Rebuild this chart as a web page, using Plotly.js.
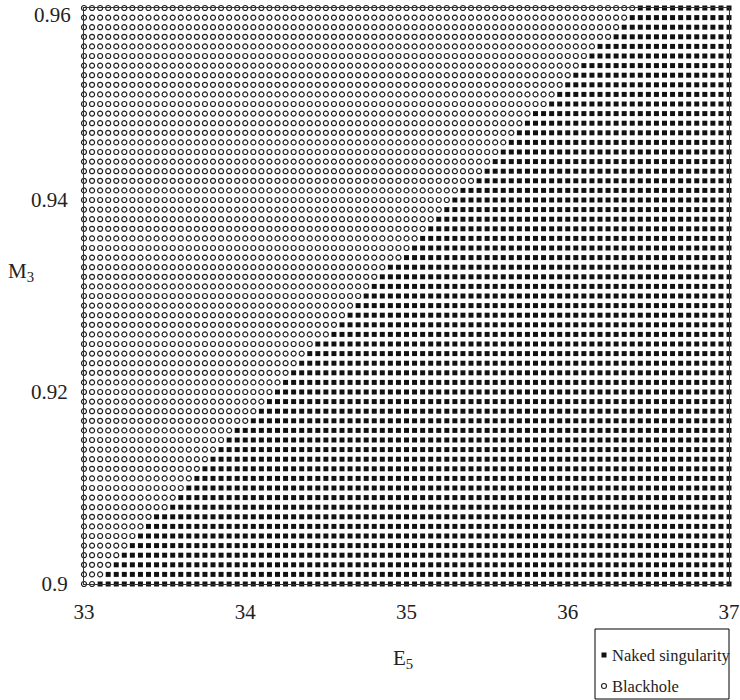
<!DOCTYPE html>
<html>
<head>
<meta charset="utf-8">
<script src="https://cdn.plot.ly/plotly-3.0.1.min.js"></script>
<style>html,body{margin:0;padding:0;background:#fff;}#chart{width:740px;height:700px;}</style>
</head>
<body>
<div id="chart"></div>
<script>
// Grid of E5 values (x) and M3 values (y)
const xValues = [33.00,33.05,33.10,33.15,33.20,33.25,33.30,33.35,33.40,33.45,
  33.50,33.55,33.60,33.65,33.70,33.75,33.80,33.85,33.90,33.95,
  34.00,34.05,34.10,34.15,34.20,34.25,34.30,34.35,34.40,34.45,
  34.50,34.55,34.60,34.65,34.70,34.75,34.80,34.85,34.90,34.95,
  35.00,35.05,35.10,35.15,35.20,35.25,35.30,35.35,35.40,35.45,
  35.50,35.55,35.60,35.65,35.70,35.75,35.80,35.85,35.90,35.95,
  36.00,36.05,36.10,36.15,36.20,36.25,36.30,36.35,36.40,36.45,
  36.50,36.55,36.60,36.65,36.70,36.75,36.80,36.85,36.90,36.95,37.00];
const yValues = [0.900,0.901,0.902,0.903,0.904,0.905,0.906,0.907,0.908,0.909,
  0.910,0.911,0.912,0.913,0.914,0.915,0.916,0.917,0.918,0.919,
  0.920,0.921,0.922,0.923,0.924,0.925,0.926,0.927,0.928,0.929,
  0.930,0.931,0.932,0.933,0.934,0.935,0.936,0.937,0.938,0.939,
  0.940,0.941,0.942,0.943,0.944,0.945,0.946,0.947,0.948,0.949,
  0.950,0.951,0.952,0.953,0.954,0.955,0.956,0.957,0.958,0.959,0.960];
// For each M3 row: index into xValues of the first "naked singularity" point
const firstNakedIndex = [2,3,4,5,6,7,8,9,11,12,
  13,14,15,16,17,18,19,21,22,23,
  24,25,26,27,28,29,31,32,33,34,
  35,36,37,38,40,41,42,43,44,45,
  46,47,49,50,51,52,53,54,55,56,
  58,59,60,61,62,63,64,66,67,68,69];
const seriesNames = ["Naked singularity", "Blackhole"];
const xTickVals = [33,34,35,36,37];
const xTickText = ["33","34","35","36","37"];
const yTickVals = [0.90,0.92,0.94,0.96];
const yTickText = ["0.9","0.92","0.94","0.96"];

const nakedX = [], nakedY = [], bhX = [], bhY = [];
yValues.forEach((yv, i) => {
  xValues.forEach((xv, k) => {
    if (k >= firstNakedIndex[i]) { nakedX.push(xv); nakedY.push(yv); }
    else { bhX.push(xv); bhY.push(yv); }
  });
});

const FONT = "'Liberation Serif', 'DejaVu Serif', 'Times New Roman', Times, serif";
const INK = "#222";
const traces = [
  {x: nakedX, y: nakedY, name: seriesNames[0], type: "scatter", mode: "markers",
   cliponaxis: false,
   marker: {symbol: "square", size: 5, color: "#111", line: {width: 0}}},
  {x: bhX, y: bhY, name: seriesNames[1], type: "scatter", mode: "markers",
   cliponaxis: false,
   marker: {symbol: "circle-open", size: 5, color: INK, line: {width: 1.2, color: INK}}}
];

// plot area: left 84, right 729, top 8, bottom 584 (px)
const L = 84, R = 729, T = 8, B = 584;
const PW = R - L, PH = B - T;
const px = v => (v - L) / PW;
const py = v => (B - v) / PH;

const nTop = yTickVals.length - 1; // top label sits at the page edge: drawn slightly lowered, as in the reference
const layout = {
  width: 740, height: 700,
  margin: {l: L, r: 740 - R, t: T, b: 700 - B},
  paper_bgcolor: "#fff", plot_bgcolor: "#fff",
  font: {family: FONT, size: 19, color: INK},
  showlegend: false,
  xaxis: {range: [33, 37], tickvals: xTickVals, ticktext: xTickText,
          showgrid: false, zeroline: false, showline: true, linecolor: "#333",
          linewidth: 1, mirror: true, ticks: "", ticklabelstandoff: 9,
          ticklabeloverflow: "allow",
          tickfont: {family: FONT, size: 21, color: INK}},
  yaxis: {range: [0.9, 0.96], tickvals: yTickVals.slice(0, nTop), ticktext: yTickText.slice(0, nTop),
          showgrid: false, zeroline: false, showline: true, linecolor: "#333",
          linewidth: 1, mirror: true, ticks: "", ticklabelstandoff: 11,
          ticklabeloverflow: "allow",
          tickfont: {family: FONT, size: 21, color: INK}},
  shapes: [
    {type: "rect", xref: "paper", yref: "paper", x0: px(595), x1: px(729), y0: py(699), y1: py(629),
     line: {color: "#000", width: 1}, fillcolor: "#fff"},
    {type: "rect", xref: "paper", yref: "paper", x0: px(601.5), x1: px(606.5), y0: py(657.5), y1: py(652.5),
     line: {width: 0}, fillcolor: "#111"},
    {type: "circle", xref: "paper", yref: "paper", x0: px(601.5), x1: px(606.5), y0: py(688.5), y1: py(683.5),
     line: {color: INK, width: 1.1}, fillcolor: "rgba(0,0,0,0)"}
  ],
  annotations: [
    {text: yTickText[nTop], xref: "paper", yref: "paper", x: px(72), y: py(15),
     xanchor: "right", yanchor: "middle", borderpad: 0,
     showarrow: false, font: {family: FONT, size: 21, color: INK}},
    {text: "M<sub>3</sub>", xref: "paper", yref: "paper", x: px(21), y: py(272),
     xanchor: "center", yanchor: "middle",
     showarrow: false, font: {family: FONT, size: 21, color: INK}},
    {text: "E<sub>5</sub>", xref: "paper", yref: "paper", x: px(403), y: py(659),
     xanchor: "center", yanchor: "middle",
     showarrow: false, font: {family: FONT, size: 21, color: INK}},
    {text: seriesNames[0], xref: "paper", yref: "paper", x: px(610), y: py(655),
     xanchor: "left", yanchor: "middle",
     showarrow: false, font: {family: FONT, size: 16.5, color: INK}},
    {text: seriesNames[1], xref: "paper", yref: "paper", x: px(610), y: py(686),
     xanchor: "left", yanchor: "middle",
     showarrow: false, font: {family: FONT, size: 16.5, color: INK}}
  ]
};

Plotly.newPlot("chart", traces, layout, {displayModeBar: false, staticPlot: true});
</script>
</body>
</html>
